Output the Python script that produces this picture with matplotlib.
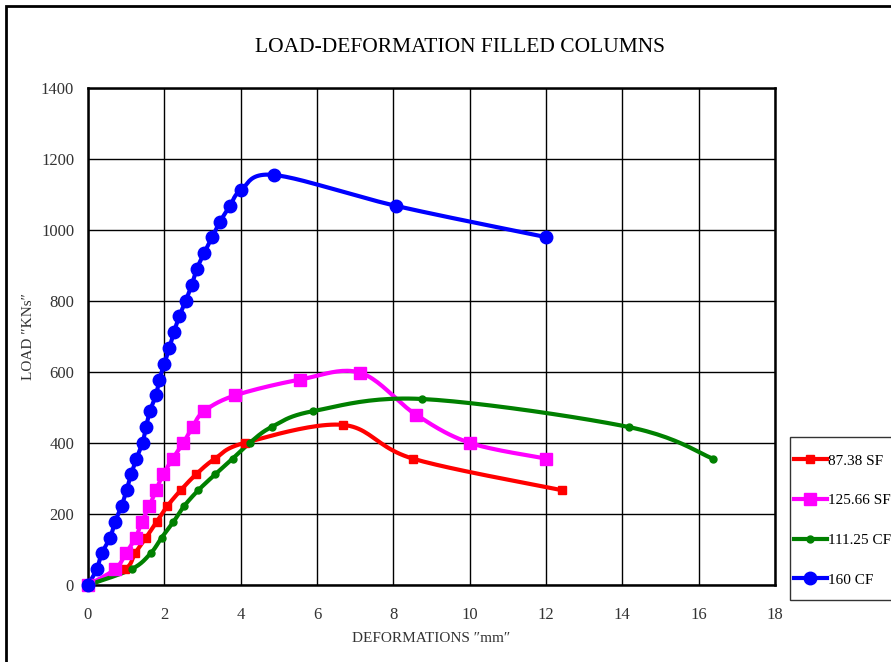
import numpy as np
import matplotlib
matplotlib.use('Agg')
import matplotlib.pyplot as plt
from matplotlib.patches import Rectangle

# DATA
x_sf87 = [0, 0.97, 1.23, 1.52, 1.80, 2.08, 2.43, 2.83, 3.33, 4.11, 6.68, 8.51, 12.42]
y_sf87 = [0, 44.5, 89, 133.5, 178, 222.5, 267, 311.5, 356, 400.5, 451, 356, 267]

x_sf125 = [0, 0.71, 0.99, 1.25, 1.41, 1.61, 1.78, 1.97, 2.22, 2.50, 2.74, 3.04, 3.85,
           5.55, 7.13, 8.59, 10.0, 12.0]
y_sf125 = [0, 44.5, 89, 133.5, 178, 222.5, 267, 311.5, 356, 400.5, 445, 489.5, 534,
           578.5, 598, 480, 400.5, 356]

x_cf111 = [0, 1.14, 1.64, 1.93, 2.24, 2.52, 2.89, 3.33, 3.79, 4.24, 4.81, 5.89, 8.75,
           14.17, 16.37]
y_cf111 = [0, 44.5, 89, 133.5, 178, 222.5, 267, 311.5, 356, 400.5, 445, 489.5, 524,
           445, 356]

x_cf160 = [0, 0.23, 0.36, 0.58, 0.71, 0.88, 1.01, 1.13, 1.27, 1.43, 1.52, 1.62, 1.78,
           1.87, 2.00, 2.13, 2.25, 2.39, 2.56, 2.72, 2.85, 3.04, 3.25, 3.46, 3.72, 4.01,
           4.88, 8.07, 12.0]
y_cf160 = [0, 44.5, 89, 133.5, 178, 222.5, 267, 311.5, 356, 400.5, 445, 489.5, 534,
           578.5, 623, 667.5, 712, 756.5, 801, 845.5, 890, 934.5, 979, 1023.5, 1068,
           1112.5, 1155, 1068, 980]

labels = ['87.38 SF', '125.66 SF', '111.25 CF', '160 CF']


def smooth(xs, ys, n=24):
    # Excel style smoothed line (bezier through points)
    p = np.column_stack([xs, ys]).astype(float)
    pts = [p[0]]
    for i in range(len(p) - 1):
        p0 = p[i - 1] if i > 0 else p[i]
        p1, p2 = p[i], p[i + 1]
        p3 = p[i + 2] if i + 2 < len(p) else p[i + 1]
        c1 = p1 + (p2 - p0) / 6.0
        c2 = p2 - (p3 - p1) / 6.0
        t = np.linspace(0, 1, n)[1:, None]
        seg = ((1 - t) ** 3) * p1 + 3 * ((1 - t) ** 2) * t * c1 + 3 * (1 - t) * t ** 2 * c2 + t ** 3 * p2
        pts.extend(seg)
    pts = np.array(pts)
    return pts[:, 0], pts[:, 1]


plt.rcParams['font.family'] = ['Liberation Serif', 'DejaVu Serif']

fig = plt.figure(figsize=(8.91, 6.62), dpi=100)
ax = fig.add_axes([88 / 891, 1 - 585 / 662, (775 - 88) / 891, (585 - 88) / 662])

series = [
    (x_sf87, y_sf87, 'red', 's', 6),
    (x_sf125, y_sf125, 'magenta', 's', 9),
    (x_cf111, y_cf111, 'green', 'o', 5),
    (x_cf160, y_cf160, 'blue', 'o', 9),
]
handles = []
for (xs, ys, c, m, ms), lab in zip(series, labels):
    sx, sy = smooth(xs, ys)
    ax.plot(sx, sy, color=c, lw=3, zorder=3, clip_on=False)
    ax.plot(xs, ys, ls='none', marker=m, ms=ms, color=c, zorder=4, clip_on=False)
    h, = ax.plot([], [], color=c, lw=3, marker=m, ms=ms)
    handles.append(h)

ax.set_xlim(0, 18)
ax.set_ylim(0, 1400)
ax.set_xticks(np.arange(0, 19, 2))
ax.set_yticks(np.arange(0, 1401, 200))
ax.grid(True, color='black', lw=1)
ax.set_axisbelow(True)
for s in ax.spines.values():
    s.set_linewidth(1.8)
ax.tick_params(length=0, labelsize=12, colors='#333333')
ax.tick_params(axis='x', pad=16)
ax.tick_params(axis='y', pad=10)

ax.set_xlabel('DEFORMATIONS \u2033mm\u2033', fontsize=11, color='#333333', labelpad=6)
ax.set_ylabel('LOAD \u2033KNs\u2033', fontsize=11, color='#333333', labelpad=4)
fig.text(460 / 891, 1 - 47 / 662, 'LOAD-DEFORMATION FILLED COLUMNS', ha='center', va='center',
         fontsize=15.5, color='black')

# legend box drawn separately, entries placed inside it
fig.add_artist(Rectangle((790 / 891, 1 - 600 / 662), 0.2, 163 / 662, transform=fig.transFigure,
                         fill=True, facecolor='white', edgecolor='#333333', lw=1, zorder=5))
leg = fig.legend(handles=handles, labels=labels, loc='upper left',
                 bbox_to_anchor=(794 / 891, 1 - 454 / 662), frameon=False,
                 fontsize=11, handlelength=2.15, handletextpad=0.1,
                 labelspacing=1.7, borderpad=0, borderaxespad=0)
leg.set_zorder(6)

# outer chart frame
fig.add_artist(Rectangle((6 / 891, -0.2), 1.2, 1.2 - 6 / 662, transform=fig.transFigure,
                         fill=False, edgecolor='black', lw=2))

fig.savefig('out.png', dpi=100)
